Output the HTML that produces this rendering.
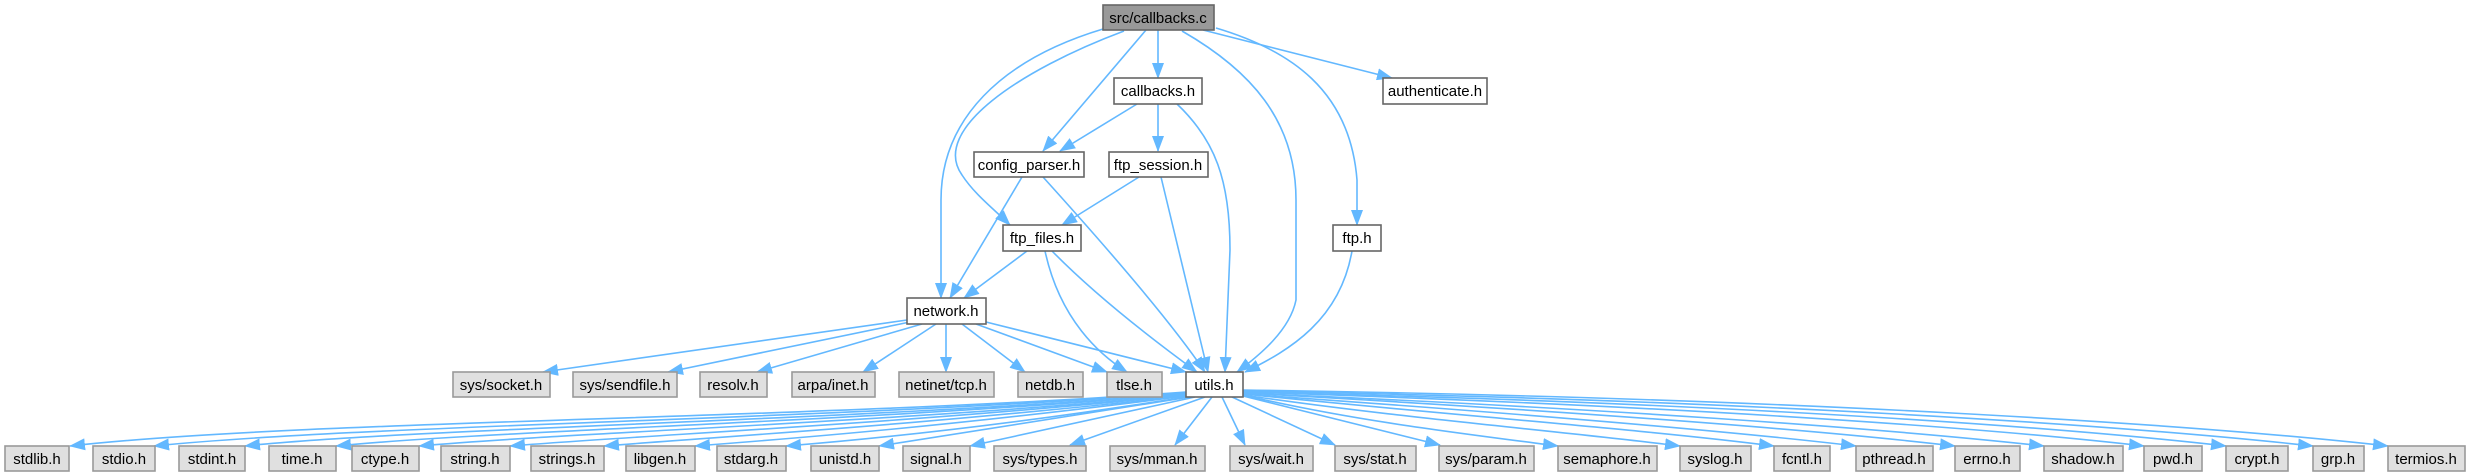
<!DOCTYPE html>
<html><head><meta charset="utf-8"><style>
html,body{margin:0;padding:0;background:#fff;}
svg{display:block;}
text{font-family:"Liberation Sans",Arial,sans-serif;font-size:15px;fill:#000;text-anchor:middle;}
.e{fill:none;stroke:#63b8ff;stroke-width:1.6;}
.w{fill:#fff;stroke:#666;stroke-width:1.6;}
.g{fill:#e0e0e0;stroke:#999;stroke-width:1.6;}
</style></head><body>
<svg width="2470" height="476" viewBox="0 0 2470 476" xmlns="http://www.w3.org/2000/svg">
<defs><marker id="a" markerUnits="userSpaceOnUse" markerWidth="16" markerHeight="12" refX="15" refY="6" orient="auto"><path d="M0,0 L16,6 L0,12 z" fill="#63b8ff"/></marker></defs>
<g marker-end="url(#a)">
<path class="e" d="M1158,30 L1158,78"/>
<path class="e" d="M1203,30 L1392,78"/>
<path class="e" d="M1146,30 L1043,151"/>
<path class="e" d="M1124,31 C1020,70 930,130 962,175 C975,195 995,210 1010,225"/>
<path class="e" d="M1103,29 C1000,60 941,120 941,200 L941,298"/>
<path class="e" d="M1182,31 C1250,70 1296,120 1296,200 L1296,300 C1290,330 1260,355 1237,372"/>
<path class="e" d="M1216,28 C1290,50 1350,90 1357,180 L1357,225"/>
<path class="e" d="M1137,104 L1060,151"/>
<path class="e" d="M1158,104 L1158,151"/>
<path class="e" d="M1177,104 C1215,140 1230,180 1230,250 L1225,372"/>
<path class="e" d="M1022,177 L950,298"/>
<path class="e" d="M1043,177 C1100,240 1170,320 1205,372"/>
<path class="e" d="M1139,177 L1062,225"/>
<path class="e" d="M1161,177 L1208,372"/>
<path class="e" d="M1027,251 L964,298"/>
<path class="e" d="M1052,251 C1100,300 1160,345 1197,372"/>
<path class="e" d="M1045,251 C1060,320 1100,355 1127,372"/>
<path class="e" d="M1352,251 C1340,320 1290,350 1245,372"/>
<path class="e" d="M907,320 L543,372"/>
<path class="e" d="M910,322 L668,372"/>
<path class="e" d="M922,324 L757,372"/>
<path class="e" d="M936,324 L863,372"/>
<path class="e" d="M946,324 L946,372"/>
<path class="e" d="M962,324 L1025,372"/>
<path class="e" d="M976,324 L1107,372"/>
<path class="e" d="M986,322 L1186,372"/>
<!-- utils to bottom row left -->
<path class="e" d="M1186,392 C800,420 300,420 70,446"/>
<path class="e" d="M1186,393 C820,420 360,425 154,446"/>
<path class="e" d="M1186,394 C840,421 420,428 245,446"/>
<path class="e" d="M1186,394 C860,422 500,430 336,446"/>
<path class="e" d="M1186,395 C880,423 580,432 419,446"/>
<path class="e" d="M1186,395 C900,424 660,434 510,446"/>
<path class="e" d="M1186,396 C920,425 730,436 604,446"/>
<path class="e" d="M1186,396 C950,426 800,438 695,446"/>
<path class="e" d="M1186,397 C990,428 860,440 786,446"/>
<path class="e" d="M1190,397 L879,446"/>
<path class="e" d="M1195,397 L970,446"/>
<path class="e" d="M1205,397 L1070,445"/>
<path class="e" d="M1212,397 L1175,445"/>
<path class="e" d="M1222,397 L1245,445"/>
<path class="e" d="M1232,397 L1335,445"/>
<path class="e" d="M1243,396 L1440,445"/>
<path class="e" d="M1243,395 C1350,420 1450,432 1558,446"/>
<path class="e" d="M1243,395 C1400,418 1550,430 1680,446"/>
<path class="e" d="M1243,394 C1450,415 1650,430 1774,446"/>
<path class="e" d="M1243,394 C1500,412 1720,430 1856,446"/>
<path class="e" d="M1243,393 C1550,410 1800,428 1955,446"/>
<path class="e" d="M1243,393 C1600,408 1880,428 2044,446"/>
<path class="e" d="M1243,392 C1650,405 1960,425 2144,446"/>
<path class="e" d="M1243,392 C1700,402 2040,425 2226,446"/>
<path class="e" d="M1243,391 C1750,400 2120,425 2313,446"/>
<path class="e" d="M1243,390 C1800,398 2200,425 2388,446"/>
</g>
<rect x="1103" y="5" width="111" height="25" fill="#999" stroke="#666" stroke-width="1.6"/><text x="1158" y="23">src/callbacks.c</text>
<rect class="w" x="1114" y="78" width="88" height="26"/><text x="1158" y="96">callbacks.h</text>
<rect class="w" x="1383" y="78" width="104" height="26"/><text x="1435" y="96">authenticate.h</text>
<rect class="w" x="974" y="152" width="110" height="25"/><text x="1029" y="170">config_parser.h</text>
<rect class="w" x="1109" y="152" width="99" height="25"/><text x="1158" y="170">ftp_session.h</text>
<rect class="w" x="1003" y="225" width="78" height="26"/><text x="1042" y="243">ftp_files.h</text>
<rect class="w" x="1333" y="225" width="48" height="26"/><text x="1357" y="243">ftp.h</text>
<rect class="w" x="907" y="298" width="79" height="26"/><text x="946" y="316">network.h</text>
<rect class="g" x="453" y="372" width="97" height="25"/><text x="501" y="390">sys/socket.h</text>
<rect class="g" x="573" y="372" width="104" height="25"/><text x="625" y="390">sys/sendfile.h</text>
<rect class="g" x="700" y="372" width="67" height="25"/><text x="733" y="390">resolv.h</text>
<rect class="g" x="792" y="372" width="83" height="25"/><text x="833" y="390">arpa/inet.h</text>
<rect class="g" x="899" y="372" width="95" height="25"/><text x="946" y="390">netinet/tcp.h</text>
<rect class="g" x="1018" y="372" width="65" height="25"/><text x="1050" y="390">netdb.h</text>
<rect class="g" x="1107" y="372" width="55" height="25"/><text x="1134" y="390">tlse.h</text>
<rect class="w" x="1186" y="372" width="57" height="25"/><text x="1214" y="390">utils.h</text>
<g>
<rect class="g" x="5" y="446" width="64" height="25"/><text x="37" y="464">stdlib.h</text>
<rect class="g" x="93" y="446" width="62" height="25"/><text x="124" y="464">stdio.h</text>
<rect class="g" x="179" y="446" width="66" height="25"/><text x="212" y="464">stdint.h</text>
<rect class="g" x="269" y="446" width="67" height="25"/><text x="302" y="464">time.h</text>
<rect class="g" x="352" y="446" width="67" height="25"/><text x="385" y="464">ctype.h</text>
<rect class="g" x="441" y="446" width="69" height="25"/><text x="475" y="464">string.h</text>
<rect class="g" x="531" y="446" width="73" height="25"/><text x="567" y="464">strings.h</text>
<rect class="g" x="626" y="446" width="69" height="25"/><text x="660" y="464">libgen.h</text>
<rect class="g" x="717" y="446" width="69" height="25"/><text x="751" y="464">stdarg.h</text>
<rect class="g" x="811" y="446" width="68" height="25"/><text x="845" y="464">unistd.h</text>
<rect class="g" x="903" y="446" width="67" height="25"/><text x="936" y="464">signal.h</text>
<rect class="g" x="994" y="446" width="92" height="25"/><text x="1040" y="464">sys/types.h</text>
<rect class="g" x="1110" y="446" width="95" height="25"/><text x="1157" y="464">sys/mman.h</text>
<rect class="g" x="1230" y="446" width="83" height="25"/><text x="1271" y="464">sys/wait.h</text>
<rect class="g" x="1335" y="446" width="81" height="25"/><text x="1375" y="464">sys/stat.h</text>
<rect class="g" x="1439" y="446" width="95" height="25"/><text x="1486" y="464">sys/param.h</text>
<rect class="g" x="1558" y="446" width="99" height="25"/><text x="1607" y="464">semaphore.h</text>
<rect class="g" x="1680" y="446" width="71" height="25"/><text x="1715" y="464">syslog.h</text>
<rect class="g" x="1774" y="446" width="56" height="25"/><text x="1802" y="464">fcntl.h</text>
<rect class="g" x="1856" y="446" width="77" height="25"/><text x="1894" y="464">pthread.h</text>
<rect class="g" x="1955" y="446" width="65" height="25"/><text x="1987" y="464">errno.h</text>
<rect class="g" x="2044" y="446" width="79" height="25"/><text x="2083" y="464">shadow.h</text>
<rect class="g" x="2144" y="446" width="58" height="25"/><text x="2173" y="464">pwd.h</text>
<rect class="g" x="2226" y="446" width="62" height="25"/><text x="2257" y="464">crypt.h</text>
<rect class="g" x="2313" y="446" width="51" height="25"/><text x="2338" y="464">grp.h</text>
<rect class="g" x="2388" y="446" width="77" height="25"/><text x="2426" y="464">termios.h</text>
</g>
</svg>
</body></html>
